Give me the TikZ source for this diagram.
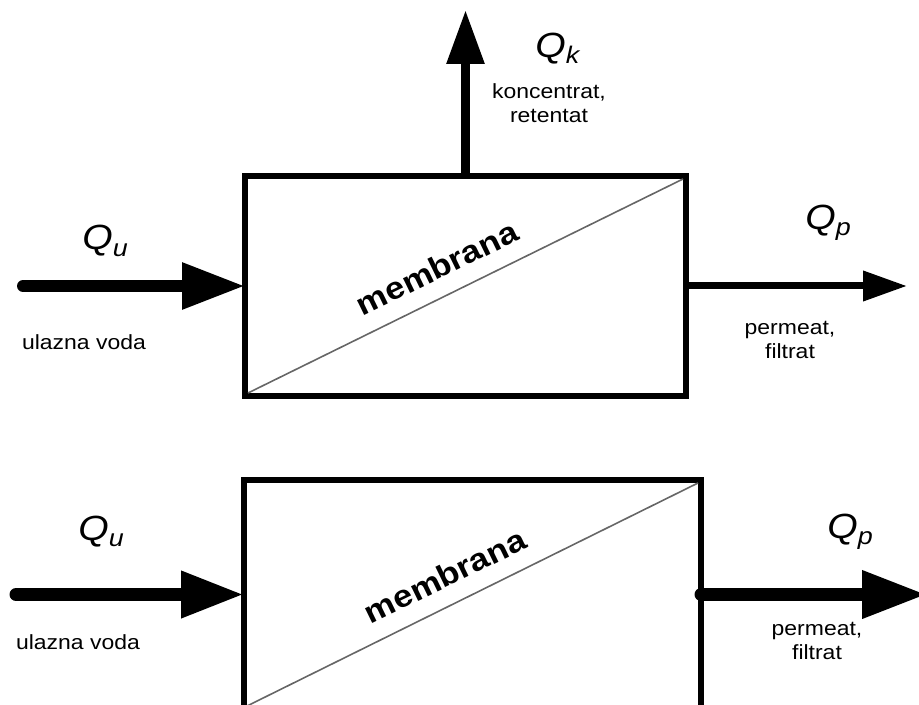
\documentclass[tikz,border=0pt]{standalone}
\usepackage{fontspec}
\setmainfont{Liberation Sans}[FakeStretch=1.12]
\usetikzlibrary{arrows.meta}
\newcommand{\flowq}[1]{\textit{Q}\raisebox{-3pt}{\fontsize{12}{12}\selectfont\textit{#1}}}

\begin{document}
\begin{tikzpicture}[
		x=0.5pt, y=-0.5pt,
		unit/.style={draw, rectangle, line width=3pt, inner sep=0pt, outer sep=0pt},
		membr/.style={line width=0.8pt, black!60},
		flowlabel/.style={inner sep=0pt, anchor=base west, font=\fontsize{17.5}{17.5}\selectfont},
		note/.style={inner sep=0pt, align=center, font=\fontsize{10.25}{12}\selectfont},
		memtext/.style={inner sep=0pt, rotate=26, font=\fontsize{15.5}{15.5}\selectfont\bfseries},
		feed/.style={line width=6pt, line cap=round, -{Triangle[length=31.5pt,width=22pt]}},
		conc/.style={line width=4.5pt, -{Triangle[length=27pt,width=18pt]}},
		perm/.style={line width=3.5pt, -{Triangle[length=22pt,width=14.5pt]}},
		permwide/.style={line width=6.5pt, line cap=round, -{Triangle[length=32.5pt,width=22.5pt]}}]
		
		\useasboundingbox (0,0) rectangle (919,705);
		\clip (0,0) rectangle (919,705);
		
		% s pretokom koncentrata
		\node[unit, minimum width=220.5pt, minimum height=110pt] (top) at (465.5,286) {};
		\draw[membr] ([shift={(1.5pt,1.5pt)}]top.south west) -- ([shift={(-1.5pt,-1.5pt)}]top.north east);
		\node[memtext] (mem1) at (437,268) {membrana};
		
		\coordinate (uin1) at (23,286);
		\coordinate (kout) at (465.5,10);
		\coordinate (pout1) at (907,286);
		
		\draw[feed] (uin1) -- (top.west);
		\draw[conc] (top.north) -- (kout);
		\draw[perm] (top.east) -- (pout1);
		
		\node[flowlabel] (qu1) at (82,250) {\flowq{u}};
		\node[note] (ulaz1) at (84,342) {ulazna voda};
		\node[flowlabel] (qk) at (535,58) {\flowq{k}};
		\node[note] (konc) at (549,103) {koncentrat,\\retentat};
		\node[flowlabel] (qp1) at (805,230) {\flowq{p}};
		\node[note] (perm1) at (790,340) {permeat,\\filtrat};
		
		% bez koncentrata
		\node[unit, minimum width=228.5pt, minimum height=114.5pt] (bot) at (472.5,594.5) {};
		\draw[membr] ([shift={(1.5pt,1.5pt)}]bot.south west) -- ([shift={(-1.5pt,-1.5pt)}]bot.north east);
		\node[memtext] (mem2) at (445,576) {membrana};
		
		\coordinate (uin2) at (16,594.5);
		\coordinate (pout2) at (927,594.5);
		
		\draw[feed, line width=6.5pt] (uin2) -- (bot.west);
		\draw[permwide] (bot.east) -- (pout2);
		
		\node[flowlabel] (qu2) at (78,540) {\flowq{u}};
		\node[note] (ulaz2) at (78,642) {ulazna voda};
		\node[flowlabel] (qp2) at (827,538) {\flowq{p}};
		\node[note] (perm2) at (817,641) {permeat,\\filtrat};
		
\end{tikzpicture}
\end{document}
